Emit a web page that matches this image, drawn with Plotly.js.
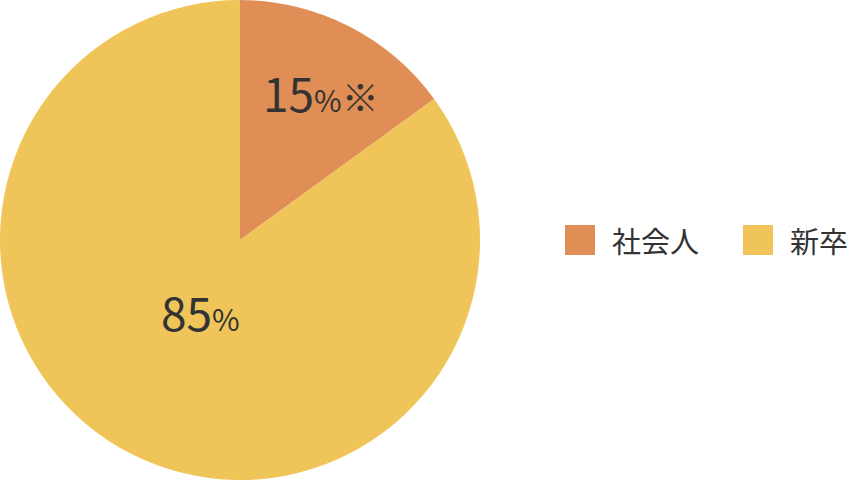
<!DOCTYPE html>
<html>
<head>
<meta charset="utf-8">
<script src="https://cdn.plot.ly/plotly-3.0.1.min.js"></script>
<style>
  html, body { margin: 0; padding: 0; background: #fff; }
  #chart { width: 852px; height: 480px; }
</style>
</head>
<body>
<div id="chart"></div>
<script>
// Data
const categories = ['社会人', '新卒'];
const shares = [15, 85];
const notes = ['※', ''];
const colors = ['#E08E55', '#EFC55A'];

const font = '"Noto Sans CJK JP", "Noto Sans", sans-serif';
const W = 852, H = 480;
const R = 240, CX = 240, CY = 240;   // pie geometry in px
const labelR = [0.7, 0.33];          // how far out each label sits
const labelShift = [[5, -2], [-4, 0]];

const pie = {
  type: 'pie',
  labels: categories,
  values: shares,
  textinfo: 'none',
  sort: false,
  direction: 'clockwise',
  rotation: 0,
  marker: { colors: colors, line: { width: 0 } },
  domain: { x: [0, 2 * R / W], y: [0, 1] },
  hoverinfo: 'none',
  showlegend: false
};

// slice labels at the mid angle of each slice
const total = shares.reduce((a, b) => a + b, 0);
let acc = 0;
const sliceLabels = shares.map((v, i) => {
  const mid = (acc + v / 2) / total * 2 * Math.PI;
  acc += v;
  const r = labelR[i] * R;
  return {
    xref: 'paper', yref: 'paper',
    x: (CX + r * Math.sin(mid)) / W,
    y: 1 - (CY - r * Math.cos(mid)) / H,
    xshift: labelShift[i][0], yshift: labelShift[i][1],
    xanchor: 'center', yanchor: 'middle',
    showarrow: false,
    text: v + '<span style="font-size:30px">%</span>' +
      (notes[i] ? '<span style="font-size:37px">' + notes[i] + '</span>' : ''),
    font: { family: font, size: 46, color: '#333333' }
  };
});

// legend drawn as squares + text so the squares can be 30px
const legX = [565, 743];
const shapes = categories.map((c, i) => ({
  type: 'rect', xref: 'paper', yref: 'paper',
  x0: legX[i] / W, x1: (legX[i] + 30) / W,
  y0: 225 / H, y1: 255 / H,
  fillcolor: colors[i], line: { width: 0 }
}));
const legendText = categories.map((c, i) => ({
  xref: 'paper', yref: 'paper',
  x: (legX[i] + 45) / W, y: 240 / H,
  xanchor: 'left', yanchor: 'middle',
  text: c, showarrow: false,
  font: { family: font, size: 29, color: '#333333' }
}));

Plotly.newPlot('chart', [pie], {
  width: W, height: H,
  margin: { l: 0, r: 0, t: 0, b: 0 },
  paper_bgcolor: '#ffffff',
  showlegend: false,
  shapes: shapes,
  annotations: sliceLabels.concat(legendText)
}, { staticPlot: true });
</script>
</body>
</html>
